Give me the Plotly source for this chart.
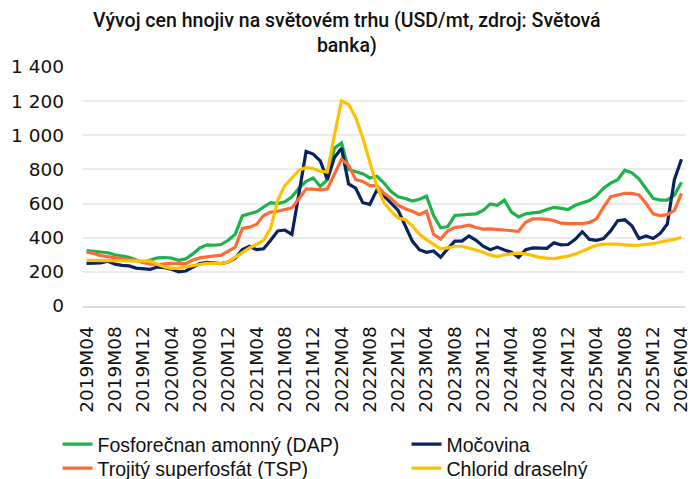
import plotly.graph_objects as go

# Categories: monthly 2019M04 .. 2026M04
months = [f"{y}M{m:02d}" for y in range(2019, 2027) for m in range(1, 13)]
months = months[months.index("2019M04"):months.index("2026M04") + 1]
tick_labels = months[::4]

dap = [325, 320, 317, 312, 300, 292, 286, 270, 255, 270, 282, 284, 280, 268, 276, 305,
       340, 358, 356, 360, 385, 420, 528, 540, 552, 580, 605, 600, 610, 640, 690, 730,
       750, 700, 740, 925, 955, 800, 785, 775, 750, 760, 720, 670, 640, 630, 615, 625,
       643, 530, 458, 465, 530, 535, 537, 540, 560, 598, 590, 620, 550, 522, 540, 545,
       550, 565, 578, 572, 565, 590, 605, 618, 645, 690, 720, 740, 795, 780, 745, 690,
       630, 620, 620, 650, 725]
mocovina = [250, 250, 252, 262, 245, 238, 235, 222, 218, 215, 228, 225, 215, 200, 205, 225,
            248, 255, 250, 248, 258, 280, 330, 350, 330, 335, 385, 440, 445, 420, 660, 905,
            890, 850, 740, 870, 925, 715, 690, 605, 595, 680, 645, 605, 560, 470, 380, 330,
            315, 322, 286, 335, 380, 380, 410, 385, 350, 330, 345, 328, 315, 285, 330, 340,
            340, 338, 370, 358, 360, 390, 435, 390, 385, 395, 440, 500, 505, 470, 395, 410,
            395, 425, 480, 740, 860]
tsp = [315, 308, 295, 288, 280, 275, 270, 267, 255, 245, 243, 248, 250, 249, 248, 270,
       282, 288, 292, 298, 322, 345, 455, 462, 478, 530, 550, 555, 565, 575, 630, 685,
       685, 680, 685, 770, 860, 825, 740, 730, 705, 705, 660, 630, 590, 570, 555, 535,
       555, 420, 392, 440, 460, 465, 473, 460, 450, 452, 448, 445, 440, 438, 490, 510,
       510, 508, 500, 485, 483, 483, 483, 490, 510, 580, 640, 650, 660, 660, 650, 600,
       540, 530, 535, 560, 660]
chlorid = [267, 267, 267, 267, 267, 267, 265, 265, 265, 263, 245, 228, 220, 222, 230, 238,
           245, 250, 250, 248, 258, 285, 315, 340, 360, 385, 455, 620, 705, 752, 795, 812,
           805, 790, 785, 1000, 1202, 1180, 1105, 985, 850, 700, 605, 555, 515, 505, 470, 420,
           389, 360, 335, 340, 350, 350, 341, 328, 315, 298, 290, 300, 305, 310, 305, 295,
           285, 280, 278, 285, 292, 305, 320, 340, 355, 362, 364, 362, 358, 355, 357, 360,
           365, 375, 382, 390, 403]

y_ticks = [0, 200, 400, 600, 800, 1000, 1200, 1400]
y_tick_text = ["0", "200", "400", "600", "800", "1 000", "1 200", "1 400"]

# (name, values, colour, legend slot)
series = [
    ("Fosforečnan amonný (DAP)", dap, "#1DB34B", "legend"),
    ("Močovina", mocovina, "#0B2260", "legend2"),
    ("Trojitý superfosfát (TSP)", tsp, "#FF6A35", "legend3"),
    ("Chlorid draselný", chlorid, "#FFC000", "legend4"),
]

fig = go.Figure()
for name, vals, color, leg in series:
    fig.add_trace(go.Scatter(x=months, y=vals, name=name, mode="lines", legend=leg,
                             line=dict(color=color, width=3.2)))

tick_font = dict(family="DejaVu Sans", size=18.5, color="#111111")
legend_common = dict(orientation="v", xanchor="left", xref="container", yref="container",
                     yanchor="top", font=dict(family="Liberation Sans", size=19.5, color="#111111"),
                     itemwidth=30, bgcolor="rgba(0,0,0,0)")
fig.update_layout(
    width=693, height=479,
    margin=dict(l=83, r=8, t=67, b=173, autoexpand=False),
    paper_bgcolor="white", plot_bgcolor="white",
    xaxis=dict(type="category", range=[-0.5, len(months) - 0.5],
               tickmode="array", tickvals=tick_labels, ticktext=tick_labels,
               tickangle=-90, tickfont=tick_font, showgrid=False,
               showline=True, linecolor="#D9D9D9", linewidth=1.5,
               ticks="", ticklen=0, ticklabelstandoff=11),
    yaxis=dict(range=[0, 1400], tickmode="array", tickvals=y_ticks, ticktext=y_tick_text,
               tickfont=tick_font, showgrid=True, gridcolor="#EBEBEB", gridwidth=1.5,
               zeroline=False, showline=False, ticks="", ticklen=0, ticklabelstandoff=18),
    showlegend=True,
    legend=dict(x=0.083, y=0.1127, **legend_common),
    legend2=dict(x=0.5866, y=0.1127, **legend_common),
    legend3=dict(x=0.083, y=0.0626, **legend_common),
    legend4=dict(x=0.5866, y=0.0626, **legend_common),
    annotations=[dict(text="Vývoj cen hnojiv na světovém trhu (USD/mt, zdroj: Světová<br>banka)",
                      xref="paper", yref="paper", x=0.439, y=1.25,
                      xanchor="center", yanchor="top", showarrow=False,
                      font=dict(family="Roboto", size=19.5, color="#111111", weight=500))],
)

fig.write_html("out.html", config={"displayModeBar": False},
               post_script="document.body.style.margin='0';")
